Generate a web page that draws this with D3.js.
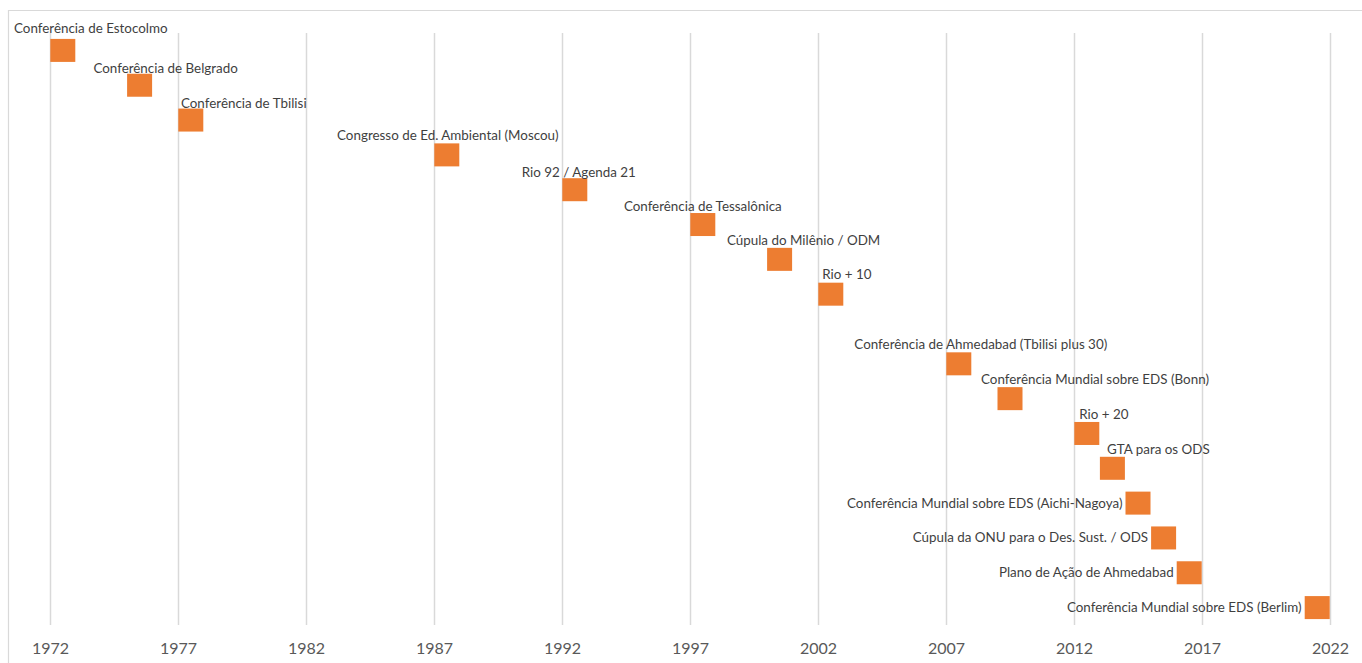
<!DOCTYPE html>
<html>
<head>
<meta charset="utf-8">
<script src="https://cdn.jsdelivr.net/npm/d3@7"></script>
<style>
  html, body { margin: 0; padding: 0; background: #fff; }
  svg { display: block; }
</style>
</head>
<body>
<div id="chart"></div>
<script>
// Events and their position on the timeline
const eventNames = [
    'Conferência de Estocolmo',
    'Conferência de Belgrado',
    'Conferência de Tbilisi',
    'Congresso de Ed. Ambiental (Moscou)',
    'Rio 92 / Agenda 21',
    'Conferência de Tessalônica',
    'Cúpula do Milênio / ODM',
    'Rio + 10',
    'Conferência de Ahmedabad (Tbilisi plus 30)',
    'Conferência Mundial sobre EDS (Bonn)',
    'Rio + 20',
    'GTA para os ODS',
    'Conferência Mundial sobre EDS (Aichi-Nagoya)',
    'Cúpula da ONU para o Des. Sust. / ODS',
    'Plano de Ação de Ahmedabad',
    'Conferência Mundial sobre EDS (Berlim)'
];
const eventYears = [1972.5, 1975.5, 1977.5, 1987.5, 1992.5, 1997.5, 2000.5, 2002.5,
                    2007.5, 2009.5, 2012.5, 2013.5, 2014.5, 2015.5, 2016.5, 2021.5];
const eventRows = [17, 16, 15, 14, 13, 12, 11, 10, 8, 7, 6, 5, 4, 3, 2, 1];
const yearTicks = [1972, 1977, 1982, 1987, 1992, 1997, 2002, 2007, 2012, 2017, 2022];

// Label placement (layout only): where each label sits relative to its marker
const labelSide = ['above', 'above', 'above', 'above', 'above', 'above', 'above', 'above',
                   'above', 'above', 'above', 'above', 'left', 'left', 'left', 'left'];
const labelShift = [28, 26, 53, 1, 4, 0, 24, 16, 22, 85, 17, 46, 0, 0, 0, 0];
const labelRaise = [17, 12, 12, 15, 13, 14, 14, 15, 15, 14.5, 14.5, 14, 0, 0, 0, 0];

const W = 1362, H = 663;
const plot = { left: 50, right: 1330, top: 33, bottom: 625 };
const markW = 25, markH = 23;
const font = 'Lato, "Open Sans", sans-serif';

const svg = d3.select('#chart').append('svg')
    .attr('width', W)
    .attr('height', H);

// chart frame (only top and left edges are visible in the crop)
svg.append('path')
    .attr('d', `M8.5,${H} V10.5 H${W}`)
    .attr('fill', 'none')
    .attr('stroke', '#d9d9d9')
    .attr('stroke-width', 1.2);

const x = d3.scaleLinear().domain([1972, 2022]).range([plot.left, plot.right]);
const y = d3.scaleLinear().domain([0.5, 17.5]).range([plot.bottom, plot.top]);

// vertical gridlines
svg.append('g')
    .attr('transform', `translate(0,${plot.bottom})`)
    .call(d3.axisBottom(x).tickValues(yearTicks).tickSize(-(plot.bottom - plot.top)).tickFormat(''))
    .call(g => g.select('.domain').remove())
    .selectAll('line')
    .attr('stroke', '#d9d9d9')
    .attr('stroke-width', 1.5);

// year labels
svg.append('g')
    .attr('transform', `translate(0,${plot.bottom})`)
    .call(d3.axisBottom(x).tickValues(yearTicks).tickSize(0).tickPadding(18).tickFormat(d3.format('d')))
    .call(g => g.select('.domain').remove())
    .selectAll('text')
    .attr('fill', '#595959')
    .style('font-family', font)
    .style('font-size', '16px');

const items = eventNames.map((name, i) => ({
    name, year: eventYears[i], row: eventRows[i],
    side: labelSide[i], shift: labelShift[i], raise: labelRaise[i]
}));

// markers
svg.append('g').selectAll('rect')
    .data(items)
    .enter()
    .append('rect')
    .attr('x', d => x(d.year) - markW / 2)
    .attr('y', d => y(d.row) - markH / 2)
    .attr('width', markW)
    .attr('height', markH)
    .attr('fill', '#ed7d31');

// data labels
svg.append('g').selectAll('text')
    .data(items)
    .enter()
    .append('text')
    .attr('x', d => d.side === 'left' ? x(d.year) - markW / 2 - 3 : x(d.year) + d.shift)
    .attr('y', d => d.side === 'left' ? y(d.row) + 4.5 : y(d.row) - d.raise)
    .attr('text-anchor', d => d.side === 'left' ? 'end' : 'middle')
    .attr('fill', '#3f3f3f')
    .style('font-family', font)
    .style('font-size', '13.4px')
    .text(d => d.name);
</script>
</body>
</html>
